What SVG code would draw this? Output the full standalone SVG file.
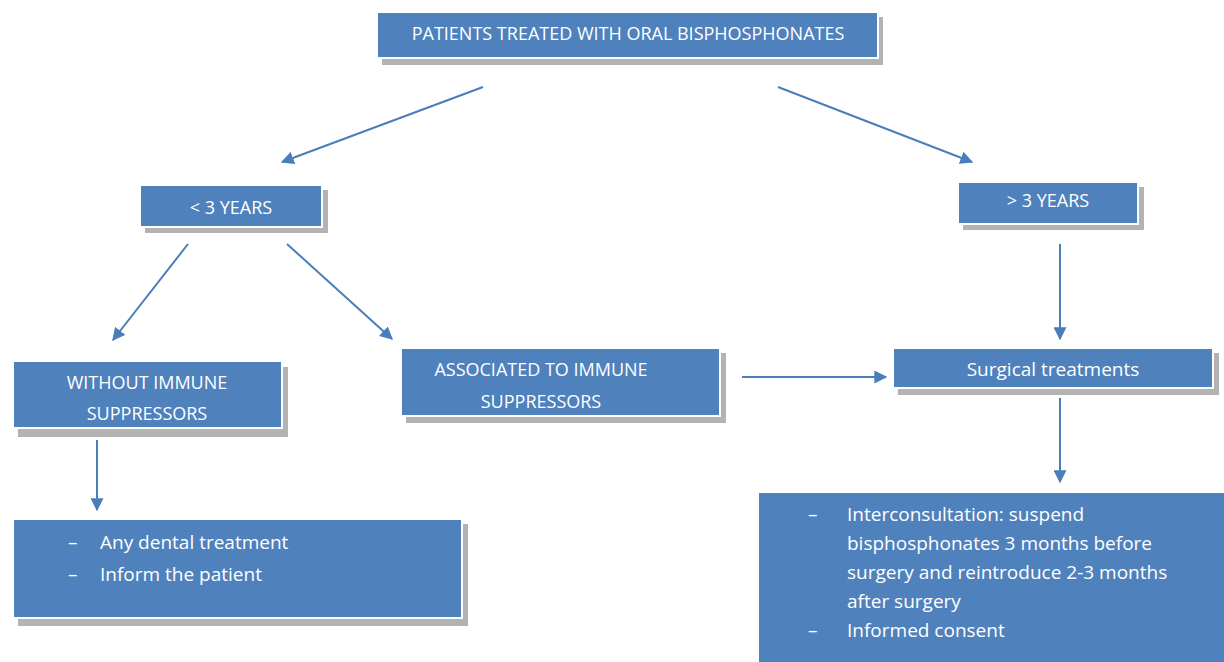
<svg xmlns="http://www.w3.org/2000/svg" width="1224" height="662" viewBox="0 0 1224 662">
<defs>
<style>
.box{fill:#4f81bd;stroke:#ffffff;stroke-width:2}
.sh{fill:#a6a6a6;opacity:0.85}
.t{fill:#ffffff;font-family:"Open Sans","Liberation Sans",sans-serif;font-size:19px}
.u{font-size:18px}
.c{text-anchor:middle}
.e{stroke:#4a7ebb;stroke-width:2;fill:none;marker-end:url(#ah)}
</style>
<marker id="ah" viewBox="0 0 10 10" refX="9" refY="5" markerWidth="6.5" markerHeight="6.5" orient="auto" markerUnits="strokeWidth">
<path d="M0,0 L10,5 L0,10 z" fill="#4a7ebb"/>
</marker>
</defs>
<rect width="1224" height="662" fill="#ffffff"/>
<g id="connectors">
<line class="e" x1="483" y1="87" x2="282" y2="162"/>
<line class="e" x1="778" y1="87" x2="972" y2="162"/>
<line class="e" x1="188" y1="244" x2="113" y2="340"/>
<line class="e" x1="287" y1="244" x2="392" y2="339"/>
<line class="e" x1="1060" y1="244" x2="1060" y2="339"/>
<line class="e" x1="742" y1="377" x2="886" y2="377"/>
<line class="e" x1="1060" y1="398" x2="1060" y2="482"/>
<line class="e" x1="97" y1="440" x2="97" y2="510"/>
</g>
<g id="n-top">
<rect class="sh" x="382" y="17" width="501" height="48"/>
<rect class="box" x="377" y="12" width="501" height="46"/>
<text class="t u c" x="628" y="40">PATIENTS TREATED WITH ORAL BISPHOSPHONATES</text>
</g>
<g id="n-lt3">
<rect class="sh" x="145" y="190" width="183" height="43"/>
<rect class="box" x="140" y="185" width="182" height="42"/>
<text class="t u c" x="231" y="214">&lt; 3 YEARS</text>
</g>
<g id="n-gt3">
<rect class="sh" x="963" y="187" width="181" height="43"/>
<rect class="box" x="958" y="182" width="180" height="42"/>
<text class="t u c" x="1048" y="207">&gt; 3 YEARS</text>
</g>
<g id="n-without">
<rect class="sh" x="18" y="367" width="270" height="70"/>
<rect class="box" x="13" y="361" width="269" height="67"/>
<text class="t u c" x="147" y="389">WITHOUT IMMUNE</text>
<text class="t u c" x="147" y="420">SUPPRESSORS</text>
</g>
<g id="n-assoc">
<rect class="sh" x="406" y="353" width="320" height="70"/>
<rect class="box" x="401" y="348" width="319" height="68"/>
<text class="t u c" x="541" y="376">ASSOCIATED TO IMMUNE</text>
<text class="t u c" x="541" y="408">SUPPRESSORS</text>
</g>
<g id="n-surgical">
<rect class="sh" x="898" y="353" width="321" height="42"/>
<rect class="box" x="893" y="348" width="320" height="40"/>
<text class="t c" x="1053" y="376">Surgical treatments</text>
</g>
<g id="n-any">
<rect class="sh" x="18" y="524" width="450" height="102"/>
<rect class="box" x="13" y="519" width="449" height="99"/>
<text class="t" x="68" y="549">–</text>
<text class="t" x="100" y="549">Any dental treatment</text>
<text class="t" x="68" y="581">–</text>
<text class="t" x="100" y="581">Inform the patient</text>
</g>
<g id="n-inter">
<rect class="sh" x="763" y="497" width="470" height="180"/>
<rect class="box" x="758" y="492" width="476" height="180"/>
<text class="t" x="808" y="521">–</text>
<text class="t" x="847" y="521">Interconsultation: suspend</text>
<text class="t" x="847" y="550">bisphosphonates 3 months before</text>
<text class="t" x="847" y="579">surgery and reintroduce 2-3 months</text>
<text class="t" x="847" y="608">after surgery</text>
<text class="t" x="808" y="637">–</text>
<text class="t" x="847" y="637">Informed consent</text>
</g>
</svg>
